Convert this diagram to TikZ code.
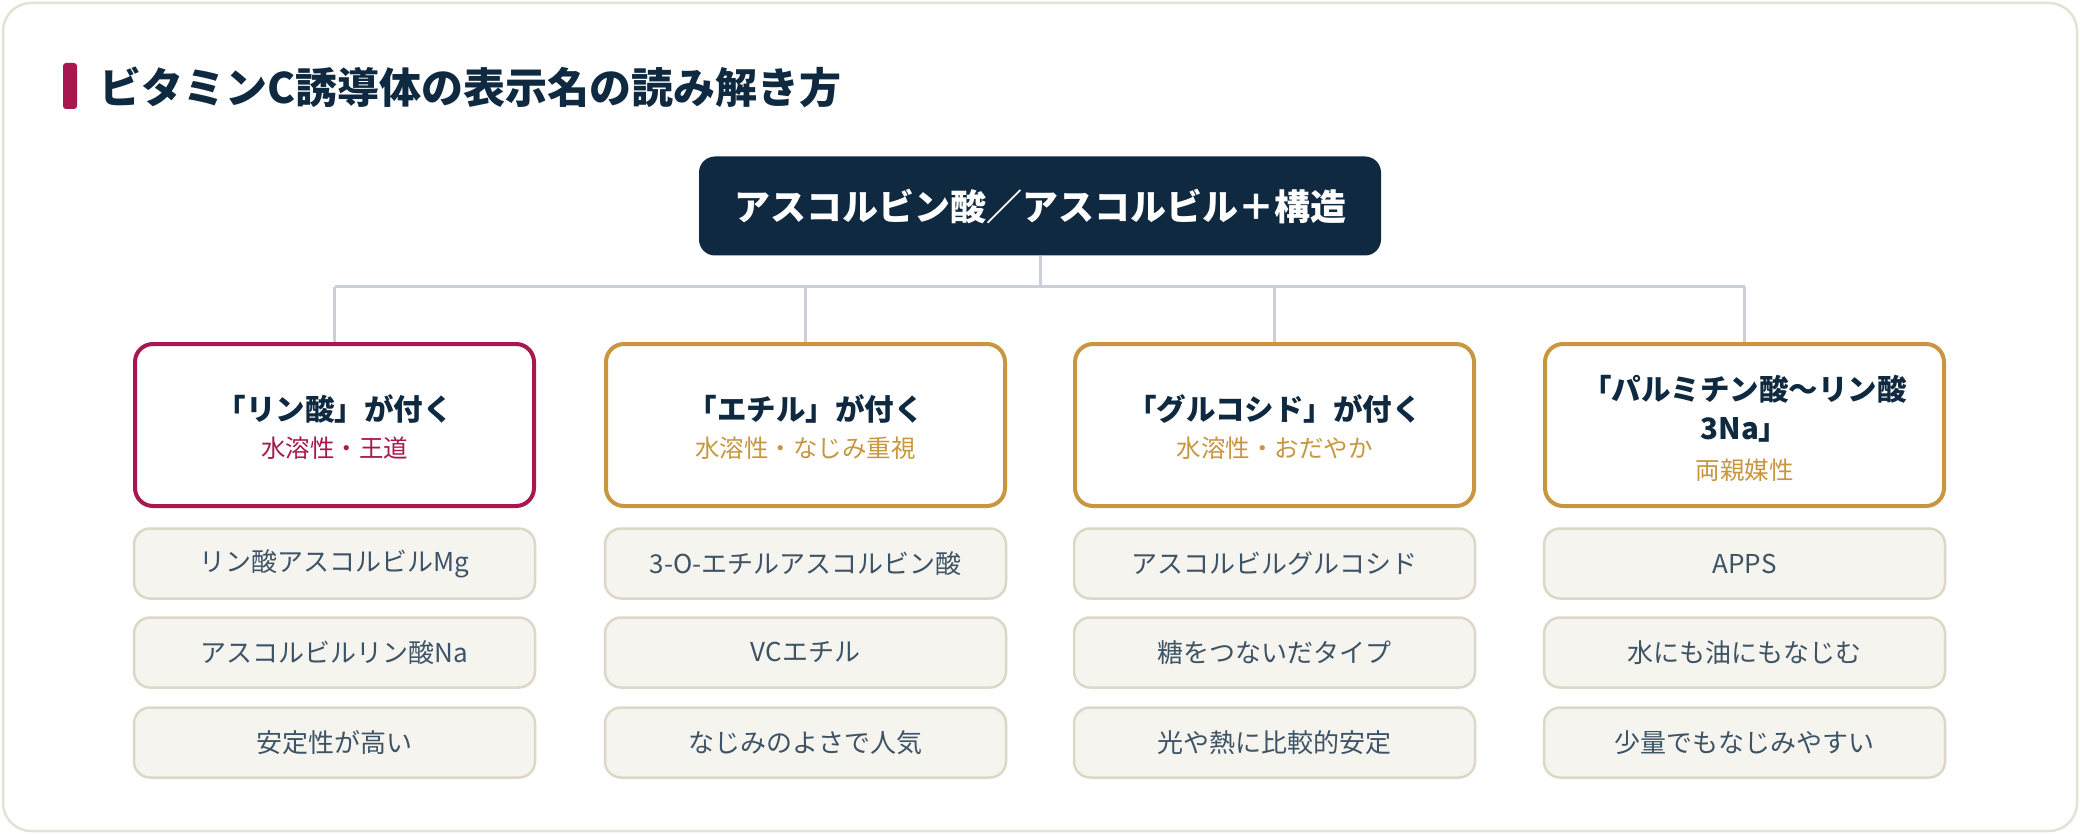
\documentclass[tikz,border=0pt]{standalone}
\usepackage{fontspec}
\setmainfont{Noto Sans CJK JP}
\definecolor{navy}{HTML}{0F2940}
\definecolor{crimson}{HTML}{A8174F}
\definecolor{gold}{HTML}{C8963E}
\definecolor{itemfill}{HTML}{F6F4EF}
\definecolor{itemdraw}{HTML}{DCD7C7}
\definecolor{itemtext}{HTML}{3D5366}
\definecolor{conncol}{HTML}{CBD0D8}
\definecolor{cardline}{HTML}{E5E2D5}
\tikzset{
  rootbox/.style={fill=navy, rounded corners=16pt, minimum width=682pt, minimum height=99pt,
    text=white, font=\fontsize{36}{43}\selectfont\bfseries, inner sep=0pt},
  catbox/.style={draw=#1, line width=4pt, fill=white, rounded corners=18pt,
    minimum width=399pt, minimum height=162pt, inner sep=0pt},
  cattitle/.style={text=navy, font=\fontsize{29.5}{41}\selectfont\bfseries, inner sep=0pt, align=center},
  catsub/.style={text=#1, font=\fontsize{24.5}{30}\selectfont, inner sep=0pt},
  itembox/.style={draw=itemdraw, line width=2.5pt, fill=itemfill, rounded corners=16pt,
    minimum width=401pt, minimum height=70pt, inner sep=0pt,
    text=itemtext, font=\fontsize{26}{31}\selectfont},
  conn/.style={draw=conncol, line width=3pt},
}
\begin{document}
\begin{tikzpicture}[x=1pt,y=-1pt]
\useasboundingbox (0,0) rectangle (2080,834);
\fill[white] (0,0) rectangle (2080,834);
\draw[cardline, line width=2.5pt, rounded corners=28pt] (3,3) rectangle (2077,831);
% title
\fill[crimson, rounded corners=3pt] (63,63) rectangle (77,109);
\node[anchor=west, text=navy, font=\fontsize{42}{50}\selectfont\bfseries, inner sep=0pt] (title) at (99,87) {ビタミンC誘導体の表示名の読み解き方};
% root
\node[rootbox] (root) at (1040,206) {アスコルビン酸／アスコルビル＋構造};
% category boxes
\node[catbox=crimson] (cat1) at (334.5,425) {};
\node[catbox=gold] (cat2) at (805.5,425) {};
\node[catbox=gold] (cat3) at (1274.5,425) {};
\node[catbox=gold] (cat4) at (1744.5,425) {};
\node[cattitle] (t1) at (334.5,409) {「リン酸」が付く};
\node[catsub=crimson] (s1) at (334.5,448) {水溶性・王道};
\node[cattitle] (t2) at (805.5,409) {「エチル」が付く};
\node[catsub=gold] (s2) at (805.5,448) {水溶性・なじみ重視};
\node[cattitle] (t3) at (1274.5,409) {「グルコシド」が付く};
\node[catsub=gold] (s3) at (1274.5,448) {水溶性・おだやか};
\node[cattitle] (t4a) at (1744.5,389) {「パルミチン酸～リン酸};
\node[cattitle] (t4b) at (1744.5,430) {3Na」};
\node[catsub=gold] (s4) at (1744.5,470) {両親媒性};
% connectors
\coordinate (bus) at (1040,287);
\draw[conn] (root.south) -- (bus);
\draw[conn] (cat1.north |- bus) -- (cat4.north |- bus);
\foreach \i in {1,2,3,4}{
  \draw[conn] (cat\i.north |- bus) -- (cat\i.north);
}
% items
\node[itembox] (i11) at (334.5,563.5) {リン酸アスコルビルMg};
\node[itembox] (i12) at (334.5,652.5) {アスコルビルリン酸Na};
\node[itembox] (i13) at (334.5,742.5) {安定性が高い};
\node[itembox] (i21) at (805.5,563.5) {3-O-エチルアスコルビン酸};
\node[itembox] (i22) at (805.5,652.5) {VCエチル};
\node[itembox] (i23) at (805.5,742.5) {なじみのよさで人気};
\node[itembox] (i31) at (1274.5,563.5) {アスコルビルグルコシド};
\node[itembox] (i32) at (1274.5,652.5) {糖をつないだタイプ};
\node[itembox] (i33) at (1274.5,742.5) {光や熱に比較的安定};
\node[itembox] (i41) at (1744.5,563.5) {APPS};
\node[itembox] (i42) at (1744.5,652.5) {水にも油にもなじむ};
\node[itembox] (i43) at (1744.5,742.5) {少量でもなじみやすい};
\end{tikzpicture}
\end{document}
